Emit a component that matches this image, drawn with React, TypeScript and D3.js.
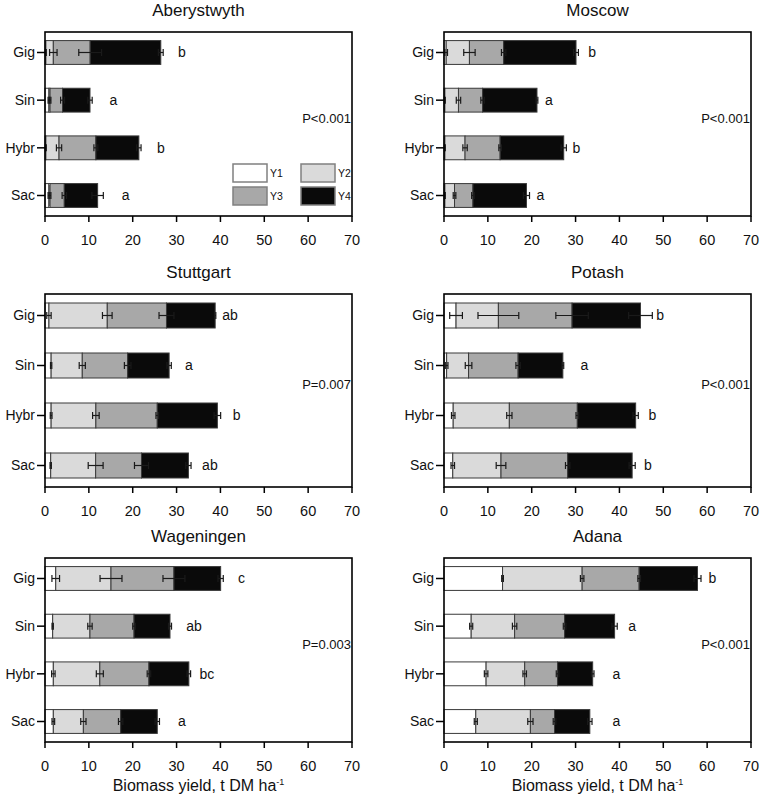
import React from "react";
import * as d3 from "d3";

// ---------- data ----------
const genotypes = ["Gig", "Sin", "Hybr", "Sac"];
const years = ["Y1", "Y2", "Y3", "Y4"];
const xTicks = [0, 10, 20, 30, 40, 50, 60, 70];
const siteNames = ["Aberystwyth", "Moscow", "Stuttgart", "Potash", "Wageningen", "Adana"];
const pValues = ["P<0.001", "P<0.001", "P=0.007", "P<0.001", "P=0.003", "P<0.001"];

// yields per year (t DM/ha), rows: Gig, Sin, Hybr, Sac ; columns: Y1..Y4
const aberystwythYields = [
  [0.2, 1.7, 8.4, 16.1],
  [0.9, 0.25, 2.85, 6.26],
  [0.2, 3.0, 8.4, 9.8],
  [0.9, 0.25, 3.25, 7.6],
];
const aberystwythErrors = [
  [0.1, 0.85, 2.6, 0.55],
  [0.2, 0.2, 0.45, 0.5],
  [0.1, 0.6, 0.45, 0.5],
  [0.2, 0.2, 0.5, 1.3],
];
const aberystwythLetters = ["b", "a", "b", "a"];
const aberystwythLetterX = [31.2, 15.6, 26.4, 18.4];

const moscowYields = [
  [0.5, 5.3, 7.8, 16.5],
  [0.2, 3.1, 5.5, 12.4],
  [0.2, 4.6, 8.0, 14.5],
  [0.2, 2.2, 4.2, 12.2],
];
const moscowErrors = [
  [0.3, 1.3, 0.5, 0.55],
  [0.1, 0.5, 0.4, 0.2],
  [0.1, 0.5, 0.3, 0.6],
  [0.1, 0.3, 0.3, 0.7],
];
const moscowLetters = ["b", "a", "b", "a"];
const moscowLetterX = [33.8, 23.9, 30.2, 22.0];

const stuttgartYields = [
  [0.9, 13.3, 13.5, 11.1],
  [1.4, 7.1, 10.35, 9.45],
  [1.4, 10.2, 14.0, 13.7],
  [1.3, 10.25, 10.45, 10.7],
];
const stuttgartErrors = [
  [0.5, 1.1, 1.7, 0.15],
  [0.15, 0.7, 0.75, 0.5],
  [0.2, 0.75, 0.3, 0.75],
  [0.15, 1.7, 1.6, 0.6],
];
const stuttgartLetters = ["ab", "a", "b", "ab"];
const stuttgartLetterX = [42.2, 32.8, 43.7, 37.6];

const potashYields = [
  [2.75, 9.65, 16.8, 15.6],
  [0.6, 5.0, 11.3, 10.2],
  [2.1, 12.8, 15.5, 13.3],
  [2.0, 11.0, 15.2, 14.7],
];
const potashErrors = [
  [1.45, 4.65, 3.7, 2.7],
  [0.3, 0.75, 0.5, 0.2],
  [0.4, 0.6, 0.3, 0.6],
  [0.4, 1.1, 0.5, 0.7],
];
const potashLetters = ["b", "a", "b", "b"];
const potashLetterX = [49.3, 32.0, 47.5, 46.5];

const wageningenYields = [
  [2.45, 12.6, 14.35, 10.65],
  [1.75, 8.5, 10.05, 8.2],
  [1.9, 10.6, 11.2, 9.1],
  [1.9, 6.85, 8.5, 8.35],
];
const wageningenErrors = [
  [0.87, 2.5, 2.5, 0.6],
  [0.15, 0.5, 0.3, 0.35],
  [0.4, 0.8, 0.4, 0.4],
  [0.3, 0.6, 0.5, 0.5],
];
const wageningenLetters = ["c", "ab", "bc", "a"];
const wageningenLetterX = [44.8, 34.0, 36.9, 31.2];

const adanaYields = [
  [13.35, 18.15, 13.0, 13.3],
  [6.2, 9.9, 11.4, 11.4],
  [9.6, 8.8, 7.5, 8.0],
  [7.25, 12.45, 5.5, 8.05],
];
const adanaErrors = [
  [0.2, 0.4, 0.3, 0.8],
  [0.35, 0.5, 0.3, 0.6],
  [0.4, 0.4, 0.3, 0.3],
  [0.35, 0.6, 0.3, 0.5],
];
const adanaLetters = ["b", "a", "a", "a"];
const adanaLetterX = [61.2, 42.9, 39.3, 39.3];

const allYields = [aberystwythYields, moscowYields, stuttgartYields, potashYields, wageningenYields, adanaYields];
const allErrors = [aberystwythErrors, moscowErrors, stuttgartErrors, potashErrors, wageningenErrors, adanaErrors];
const allLetters = [aberystwythLetters, moscowLetters, stuttgartLetters, potashLetters, wageningenLetters, adanaLetters];
const allLetterX = [aberystwythLetterX, moscowLetterX, stuttgartLetterX, potashLetterX, wageningenLetterX, adanaLetterX];

// ---------- styling / layout ----------
const yearColors = ["#ffffff", "#dadada", "#a8a8a8", "#0a0a0a"];
const FONT = "'Liberation Sans', Arial, Helvetica, sans-serif";
const colX0 = [45, 444];
const plotW = 307;
const rows = [
  { top: 32, bottom: 216 },
  { top: 294, bottom: 487 },
  { top: 558, bottom: 742 },
];

function Panel({ idx }: { idx: number }) {
  const col = idx % 2;
  const row = Math.floor(idx / 2);
  const { top, bottom } = rows[row];
  const x = d3.scaleLinear().domain([0, 70]).range([colX0[col], colX0[col] + plotW]);
  const y = d3.scalePoint<string>().domain(genotypes).range([top, bottom]).padding(0.43);
  const bh = y.step() * 0.5;
  const yields = allYields[idx];
  const errs = allErrors[idx];
  const records = genotypes.map((g, gi) => {
    const r: any = { g };
    years.forEach((yr, yi) => (r[yr] = yields[gi][yi]));
    return r;
  });
  const series = d3.stack().keys(years)(records);
  const left = x(0);
  const right = x(70);
  const cx = (left + right) / 2;

  return (
    <g>
      <text x={cx} y={top - 16} textAnchor="middle" fontSize={17} fontFamily={FONT} fill="#111">
        {siteNames[idx]}
      </text>
      {/* bars */}
      {series.map((s, si) =>
        s.map((d, gi) => (
          <rect
            key={`b${si}-${gi}`}
            x={x(d[0])}
            y={(y(genotypes[gi]) as number) - bh / 2}
            width={Math.max(0, x(d[1]) - x(d[0]))}
            height={bh}
            fill={yearColors[si]}
            stroke="#3a3a3a"
            strokeWidth={1}
          />
        ))
      )}
      {/* error bars */}
      {series.map((s, si) =>
        s.map((d, gi) => {
          const cy = y(genotypes[gi]) as number;
          const e = errs[gi][si];
          const x1 = x(d[1] - e);
          const x2 = x(d[1] + e);
          return (
            <g key={`e${si}-${gi}`} stroke="#1a1a1a" strokeWidth={1.2}>
              <line x1={x1} x2={x2} y1={cy} y2={cy} />
              <line x1={x1} x2={x1} y1={cy - 3.5} y2={cy + 3.5} />
              <line x1={x2} x2={x2} y1={cy - 3.5} y2={cy + 3.5} />
            </g>
          );
        })
      )}
      {/* frame */}
      <rect x={left} y={top} width={right - left} height={bottom - top} fill="none" stroke="#000" strokeWidth={1.6} />
      {/* x ticks */}
      {xTicks.map((t) => (
        <g key={`xt${t}`}>
          <line x1={x(t)} x2={x(t)} y1={bottom} y2={bottom + 6} stroke="#000" strokeWidth={1.5} />
          <text x={x(t)} y={bottom + 29} textAnchor="middle" fontSize={14.5} fontFamily={FONT} fill="#111">
            {t}
          </text>
        </g>
      ))}
      {/* y ticks */}
      {genotypes.map((g) => (
        <g key={`yt${g}`}>
          <line x1={left - 8} x2={left} y1={y(g)} y2={y(g)} stroke="#000" strokeWidth={1.5} />
          <text x={left - 10} y={y(g)} dy="0.35em" textAnchor="end" fontSize={14} fontFamily={FONT} fill="#111">
            {g}
          </text>
        </g>
      ))}
      {/* letters */}
      {genotypes.map((g, gi) => (
        <text
          key={`l${g}`}
          x={x(allLetterX[idx][gi])}
          y={y(g)}
          dy="0.35em"
          textAnchor="middle"
          fontSize={14}
          fontFamily={FONT}
          fill="#111"
        >
          {allLetters[idx][gi]}
        </text>
      ))}
      {/* p value */}
      <text
        x={right - 1}
        y={(y("Sin") as number) + y.step() * 0.38}
        dy="0.35em"
        textAnchor="end"
        fontSize={13}
        fontFamily={FONT}
        fill="#111"
      >
        {pValues[idx]}
      </text>
      {/* legend */}
      {idx === 0 &&
        years.map((yr, yi) => {
          const lx = right - 119 + (yi % 2) * 68;
          const ly = bottom - 52 + Math.floor(yi / 2) * 23;
          return (
            <g key={`lg${yr}`}>
              <rect x={lx} y={ly} width={34} height={18} fill={yearColors[yi]} stroke="#808080" strokeWidth={1.5} />
              <text x={lx + 37} y={ly + 9} dy="0.35em" fontSize={10.5} fontFamily={FONT} fill="#111">
                {yr}
              </text>
            </g>
          );
        })}
      {/* axis title */}
      {row === 2 && (
        <text x={cx} y={bottom + 49} textAnchor="middle" fontSize={16} fontFamily={FONT} fill="#111">
          Biomass yield, t DM ha
          <tspan fontSize={9} dy={-6}>-1</tspan>
        </text>
      )}
    </g>
  );
}

export default function App() {
  return (
    <svg
      width={762}
      height={798}
      style={{ position: "absolute", left: 0, top: 0, background: "#fff" }}
    >
      <rect x={0} y={0} width={762} height={798} fill="#fff" />
      {siteNames.map((_, i) => (
        <Panel key={i} idx={i} />
      ))}
    </svg>
  );
}
